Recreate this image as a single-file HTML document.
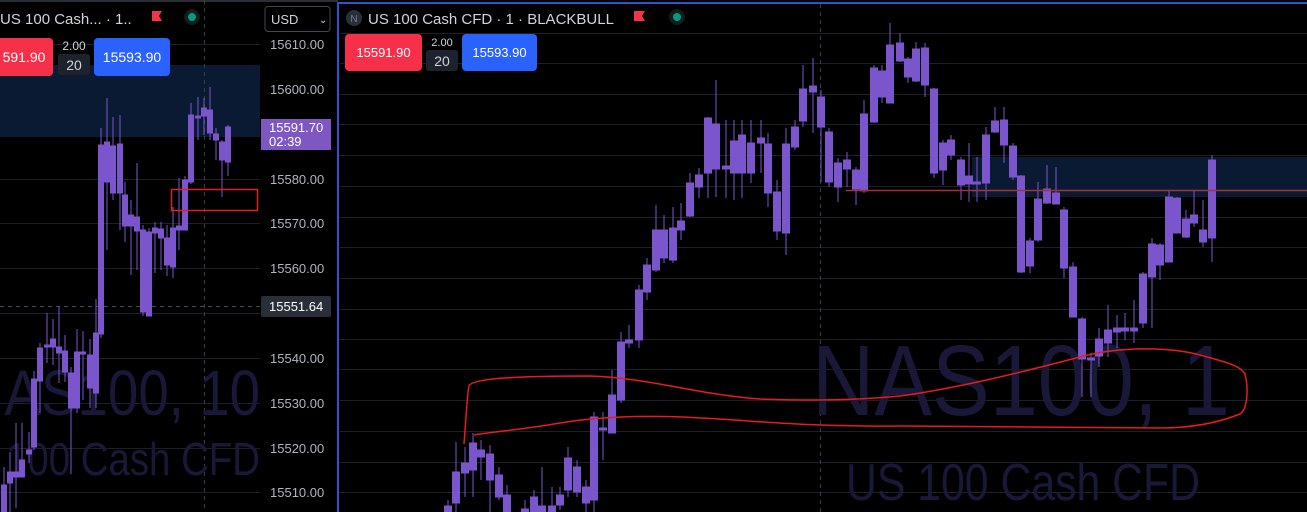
<!DOCTYPE html>
<html><head><meta charset="utf-8"><style>
html,body{margin:0;padding:0;background:#000;width:1307px;height:512px;overflow:hidden}
svg{display:block;font-family:"Liberation Sans",sans-serif}
</style></head><body>
<svg width="1307" height="512" viewBox="0 0 1307 512" xmlns="http://www.w3.org/2000/svg">
<rect width="1307" height="512" fill="#000"/>
<rect x="0" y="0" width="338" height="2" fill="#2a2e39"/>
<g stroke="#1c1f26" stroke-width="1">
<line x1="0" y1="44.5" x2="260" y2="44.5"/><line x1="0" y1="89.5" x2="260" y2="89.5"/><line x1="0" y1="134.5" x2="260" y2="134.5"/>
<line x1="0" y1="179.5" x2="260" y2="179.5"/><line x1="0" y1="223.5" x2="260" y2="223.5"/><line x1="0" y1="268.5" x2="260" y2="268.5"/>
<line x1="0" y1="313.5" x2="260" y2="313.5"/><line x1="0" y1="358.5" x2="260" y2="358.5"/><line x1="0" y1="403.5" x2="260" y2="403.5"/>
<line x1="0" y1="448.5" x2="260" y2="448.5"/><line x1="0" y1="492.5" x2="260" y2="492.5"/>
</g>
<rect x="0" y="65" width="260" height="72" fill="#0b1a33"/>
<line x1="204.5" y1="0" x2="204.5" y2="512" stroke="#3a3d46" stroke-dasharray="4,4"/>
<line x1="0" y1="306.5" x2="260" y2="306.5" stroke="#4a4d56" stroke-dasharray="4,4"/>
<text x="-35" y="415" font-size="64" fill="#1a1838" textLength="295" lengthAdjust="spacingAndGlyphs">NAS100, 10</text>
<text x="-58" y="475" font-size="46" fill="#1a1838" textLength="318" lengthAdjust="spacingAndGlyphs">US 100 Cash CFD</text>
<g fill="#7a55cc" stroke="#7a55cc" stroke-width="1">
<line x1="4" y1="467" x2="4" y2="512"/><rect x="1.5" y="485" width="5" height="27"/>
<line x1="10" y1="452" x2="10" y2="512"/><rect x="7.5" y="472" width="5" height="11"/>
<line x1="16" y1="423" x2="16" y2="508"/><rect x="13.5" y="472" width="5" height="5"/>
<line x1="22" y1="423" x2="22" y2="477"/><rect x="19.5" y="460" width="5" height="17"/>
<line x1="29" y1="432" x2="29" y2="463"/><rect x="26.5" y="450" width="5" height="4"/>
<line x1="34" y1="371" x2="34" y2="450"/><rect x="31.5" y="379" width="5" height="68"/>
<line x1="40" y1="343" x2="40" y2="413"/><rect x="37.5" y="348" width="5" height="33"/>
<line x1="47" y1="313" x2="47" y2="363"/><rect x="44.5" y="345" width="5" height="2"/>
<line x1="53" y1="319" x2="53" y2="365"/><rect x="50.5" y="339" width="5" height="8"/>
<line x1="59" y1="306" x2="59" y2="383"/><rect x="56.5" y="347" width="5" height="6"/>
<line x1="65" y1="335" x2="65" y2="382"/><rect x="62.5" y="351" width="5" height="21"/>
<line x1="71" y1="367" x2="71" y2="474"/><rect x="68.5" y="373" width="5" height="35"/>
<line x1="77" y1="329" x2="77" y2="413"/><rect x="74.5" y="352" width="5" height="56"/>
<line x1="83" y1="331" x2="83" y2="400"/><rect x="80.5" y="352" width="5" height="2"/>
<line x1="90" y1="339" x2="90" y2="408"/><rect x="87.5" y="355" width="5" height="33"/>
<line x1="96" y1="299" x2="96" y2="408"/><rect x="93.5" y="333" width="5" height="60"/>
<line x1="101" y1="128" x2="101" y2="338"/><rect x="98.5" y="145" width="5" height="189"/>
<line x1="107" y1="98" x2="107" y2="250"/><rect x="104.5" y="142" width="5" height="40"/>
<line x1="113" y1="117" x2="113" y2="200"/><rect x="110.5" y="146" width="5" height="47"/>
<line x1="120" y1="115" x2="120" y2="230"/><rect x="117.5" y="144" width="5" height="49"/>
<line x1="125" y1="182" x2="125" y2="242"/><rect x="122.5" y="195" width="5" height="31"/>
<line x1="131" y1="200" x2="131" y2="275"/><rect x="128.5" y="215" width="5" height="11"/>
<line x1="137" y1="163" x2="137" y2="270"/><rect x="134.5" y="217" width="5" height="14"/>
<line x1="143" y1="225" x2="143" y2="316"/><rect x="140.5" y="230" width="5" height="82"/>
<line x1="149" y1="228" x2="149" y2="316"/><rect x="146.5" y="232" width="5" height="84"/>
<line x1="155" y1="222" x2="155" y2="273"/><rect x="152.5" y="228" width="5" height="5"/>
<line x1="161" y1="222" x2="161" y2="270"/><rect x="158.5" y="229" width="5" height="9"/>
<line x1="167" y1="225" x2="167" y2="276"/><rect x="164.5" y="238" width="5" height="27"/>
<line x1="173" y1="207" x2="173" y2="278"/><rect x="170.5" y="228" width="5" height="39"/>
<line x1="179" y1="178" x2="179" y2="250"/><rect x="176.5" y="226" width="5" height="4"/>
<line x1="185" y1="176" x2="185" y2="230"/><rect x="182.5" y="180" width="5" height="50"/>
<line x1="191" y1="103" x2="191" y2="184"/><rect x="188.5" y="115" width="5" height="67"/>
<line x1="198" y1="97" x2="198" y2="140"/><rect x="195.5" y="116" width="5" height="2"/>
<line x1="204" y1="98" x2="204" y2="135"/><rect x="201.5" y="108" width="5" height="8"/>
<line x1="210" y1="87" x2="210" y2="140"/><rect x="207.5" y="110" width="5" height="23"/>
<line x1="216" y1="128" x2="216" y2="160"/><rect x="213.5" y="134" width="5" height="6"/>
<line x1="222" y1="140" x2="222" y2="197"/><rect x="219.5" y="142" width="5" height="18"/>
<line x1="228" y1="125" x2="228" y2="176"/><rect x="225.5" y="127" width="5" height="35"/>
</g>
<rect x="171.5" y="189.5" width="86" height="21" fill="none" stroke="#e0221f" stroke-width="1.5"/>
<text x="0" y="24" font-size="15" fill="#d1d4dc">US 100 Cash... · 1..</text>
<path d="M152 11h10l-3 5 3 5h-10z" fill="#f23645"/>
<circle cx="192" cy="17" r="8" fill="#0f1d1b"/><circle cx="192" cy="17" r="4" fill="#089981"/>
<rect x="-5" y="38" width="58" height="38" rx="4" fill="#f7304a"/>
<text x="24" y="62" font-size="14" fill="#fff" text-anchor="middle">591.90</text>
<text x="74" y="50" font-size="12" fill="#d1d4dc" text-anchor="middle">2.00</text>
<rect x="58" y="54" width="32" height="21" rx="3" fill="#1e222d"/>
<text x="74" y="70" font-size="14" fill="#d1d4dc" text-anchor="middle">20</text>
<rect x="94" y="38" width="76" height="38" rx="4" fill="#2962ff"/>
<text x="132" y="62" font-size="14" fill="#fff" text-anchor="middle">15593.90</text>
<rect x="265" y="6.5" width="65" height="25" rx="3" fill="#000" stroke="#434651"/>
<text x="271" y="24" font-size="13" fill="#d1d4dc">USD</text>
<text x="319" y="23" font-size="10" fill="#d1d4dc">⌄</text>
<g font-size="13" fill="#b2b5be">
<text x="270" y="49">15610.00</text><text x="270" y="94">15600.00</text>
<text x="270" y="184">15580.00</text><text x="270" y="228">15570.00</text><text x="270" y="273">15560.00</text>
<text x="270" y="363">15540.00</text><text x="270" y="408">15530.00</text><text x="270" y="453">15520.00</text>
<text x="270" y="497">15510.00</text>
</g>
<rect x="261" y="119" width="70" height="31" fill="#7e57c2"/>
<text x="269" y="132" font-size="13" fill="#fff">15591.70</text>
<text x="269" y="146" font-size="13" fill="#fff">02:39</text>
<rect x="261" y="296" width="70" height="21" rx="2" fill="#2a2e39"/>
<text x="269" y="311" font-size="13" fill="#fff">15551.64</text>
<g stroke="#1c1f26" stroke-width="1">
<line x1="340" y1="33.5" x2="1307" y2="33.5"/><line x1="340" y1="63.5" x2="1307" y2="63.5"/><line x1="340" y1="94.5" x2="1307" y2="94.5"/>
<line x1="340" y1="124.5" x2="1307" y2="124.5"/><line x1="340" y1="155.5" x2="1307" y2="155.5"/><line x1="340" y1="186.5" x2="1307" y2="186.5"/>
<line x1="340" y1="217.5" x2="1307" y2="217.5"/><line x1="340" y1="247.5" x2="1307" y2="247.5"/><line x1="340" y1="278.5" x2="1307" y2="278.5"/>
<line x1="340" y1="309.5" x2="1307" y2="309.5"/><line x1="340" y1="339.5" x2="1307" y2="339.5"/><line x1="340" y1="369.5" x2="1307" y2="369.5"/>
<line x1="340" y1="400.5" x2="1307" y2="400.5"/><line x1="340" y1="431.5" x2="1307" y2="431.5"/><line x1="340" y1="462.5" x2="1307" y2="462.5"/>
<line x1="340" y1="492.5" x2="1307" y2="492.5"/>
</g>
<rect x="972" y="157" width="335" height="40" fill="#0b1a33"/>
<line x1="820.5" y1="4" x2="820.5" y2="512" stroke="#3a3d46" stroke-dasharray="4,4"/>
<text x="812" y="415" font-size="100" fill="#1a1838" textLength="418" lengthAdjust="spacingAndGlyphs">NAS100, 1</text>
<text x="846" y="500" font-size="52" fill="#1a1838" textLength="354" lengthAdjust="spacingAndGlyphs">US 100 Cash CFD</text>
<g fill="#7a55cc" stroke="#7a55cc" stroke-width="1">
<line x1="448" y1="500" x2="448" y2="512"/><rect x="444.5" y="506" width="7" height="6"/>
<line x1="456" y1="442" x2="456" y2="512"/><rect x="452.5" y="472" width="7" height="31"/>
<line x1="465" y1="447" x2="465" y2="497"/><rect x="461.5" y="463" width="7" height="10"/>
<line x1="473" y1="433" x2="473" y2="497"/><rect x="469.5" y="443" width="7" height="27"/>
<line x1="481" y1="440" x2="481" y2="480"/><rect x="477.5" y="450" width="7" height="7"/>
<line x1="490" y1="445" x2="490" y2="512"/><rect x="486.5" y="454" width="7" height="26"/>
<line x1="499" y1="467" x2="499" y2="500"/><rect x="495.5" y="475" width="7" height="22"/>
<line x1="507" y1="485" x2="507" y2="512"/><rect x="503.5" y="495" width="7" height="17"/>
<line x1="525" y1="500" x2="525" y2="512"/><rect x="521.5" y="509" width="7" height="3"/>
<line x1="534" y1="490" x2="534" y2="512"/><rect x="530.5" y="497" width="7" height="15"/>
<line x1="542" y1="467" x2="542" y2="512"/><rect x="538.5" y="506" width="7" height="6"/>
<line x1="552" y1="487" x2="552" y2="512"/><rect x="548.5" y="506" width="7" height="6"/>
<line x1="560" y1="487" x2="560" y2="510"/><rect x="556.5" y="495" width="7" height="10"/>
<line x1="568" y1="447" x2="568" y2="497"/><rect x="564.5" y="458" width="7" height="32"/>
<line x1="577" y1="460" x2="577" y2="497"/><rect x="573.5" y="467" width="7" height="25"/>
<line x1="586" y1="480" x2="586" y2="512"/><rect x="582.5" y="487" width="7" height="16"/>
<line x1="594" y1="412" x2="594" y2="512"/><rect x="590.5" y="417" width="7" height="83"/>
<line x1="603" y1="412" x2="603" y2="460"/><rect x="599.5" y="428" width="7" height="2"/>
<line x1="612" y1="370" x2="612" y2="433"/><rect x="608.5" y="395" width="7" height="38"/>
<line x1="621" y1="332" x2="621" y2="403"/><rect x="617.5" y="342" width="7" height="58"/>
<line x1="629" y1="325" x2="629" y2="348"/><rect x="625.5" y="340" width="7" height="3"/>
<line x1="639" y1="285" x2="639" y2="348"/><rect x="635.5" y="290" width="7" height="50"/>
<line x1="647" y1="258" x2="647" y2="300"/><rect x="643.5" y="265" width="7" height="27"/>
<line x1="656" y1="205" x2="656" y2="272"/><rect x="652.5" y="230" width="7" height="40"/>
<line x1="664" y1="215" x2="664" y2="263"/><rect x="660.5" y="230" width="7" height="28"/>
<line x1="673" y1="207" x2="673" y2="263"/><rect x="669.5" y="228" width="7" height="32"/>
<line x1="681" y1="203" x2="681" y2="240"/><rect x="677.5" y="221" width="7" height="9"/>
<line x1="690" y1="173" x2="690" y2="217"/><rect x="686.5" y="183" width="7" height="33"/>
<line x1="699" y1="168" x2="699" y2="198"/><rect x="695.5" y="175" width="7" height="12"/>
<line x1="708" y1="117" x2="708" y2="198"/><rect x="704.5" y="118" width="7" height="55"/>
<line x1="716" y1="80" x2="716" y2="197"/><rect x="712.5" y="124" width="7" height="45"/>
<line x1="726" y1="120" x2="726" y2="198"/><rect x="722.5" y="166" width="7" height="3"/>
<line x1="734" y1="120" x2="734" y2="200"/><rect x="730.5" y="141" width="7" height="32"/>
<line x1="742" y1="120" x2="742" y2="198"/><rect x="738.5" y="135" width="7" height="38"/>
<line x1="751" y1="120" x2="751" y2="183"/><rect x="747.5" y="143" width="7" height="30"/>
<line x1="761" y1="120" x2="761" y2="173"/><rect x="757.5" y="138" width="7" height="5"/>
<line x1="768" y1="133" x2="768" y2="207"/><rect x="764.5" y="144" width="7" height="49"/>
<line x1="777" y1="180" x2="777" y2="240"/><rect x="773.5" y="192" width="7" height="39"/>
<line x1="786" y1="128" x2="786" y2="255"/><rect x="782.5" y="144" width="7" height="89"/>
<line x1="795" y1="120" x2="795" y2="150"/><rect x="791.5" y="127" width="7" height="20"/>
<line x1="803" y1="65" x2="803" y2="127"/><rect x="799.5" y="89" width="7" height="32"/>
<line x1="813" y1="58" x2="813" y2="133"/><rect x="809.5" y="86" width="7" height="6"/>
<line x1="821" y1="90" x2="821" y2="182"/><rect x="817.5" y="97" width="7" height="30"/>
<line x1="829" y1="128" x2="829" y2="187"/><rect x="825.5" y="132" width="7" height="50"/>
<line x1="838" y1="158" x2="838" y2="202"/><rect x="834.5" y="163" width="7" height="24"/>
<line x1="847" y1="152" x2="847" y2="187"/><rect x="843.5" y="160" width="7" height="9"/>
<line x1="856" y1="167" x2="856" y2="205"/><rect x="852.5" y="170" width="7" height="19"/>
<line x1="864" y1="100" x2="864" y2="193"/><rect x="860.5" y="114" width="7" height="77"/>
<line x1="874" y1="65" x2="874" y2="123"/><rect x="870.5" y="68" width="7" height="54"/>
<line x1="882" y1="65" x2="882" y2="103"/><rect x="878.5" y="71" width="7" height="26"/>
<line x1="890" y1="23" x2="890" y2="103"/><rect x="886.5" y="45" width="7" height="58"/>
<line x1="900" y1="33" x2="900" y2="62"/><rect x="896.5" y="43" width="7" height="18"/>
<line x1="908" y1="57" x2="908" y2="83"/><rect x="904.5" y="59" width="7" height="18"/>
<line x1="916" y1="42" x2="916" y2="82"/><rect x="912.5" y="49" width="7" height="32"/>
<line x1="925" y1="43" x2="925" y2="97"/><rect x="921.5" y="48" width="7" height="37"/>
<line x1="934" y1="88" x2="934" y2="178"/><rect x="930.5" y="89" width="7" height="84"/>
<line x1="943" y1="140" x2="943" y2="185"/><rect x="939.5" y="143" width="7" height="27"/>
<line x1="951" y1="135" x2="951" y2="160"/><rect x="947.5" y="140" width="7" height="15"/>
<line x1="961" y1="157" x2="961" y2="200"/><rect x="957.5" y="160" width="7" height="25"/>
<line x1="969" y1="143" x2="969" y2="202"/><rect x="965.5" y="176" width="7" height="8"/>
<line x1="977" y1="157" x2="977" y2="202"/><rect x="973.5" y="182" width="7" height="2"/>
<line x1="986" y1="127" x2="986" y2="200"/><rect x="982.5" y="135" width="7" height="48"/>
<line x1="995" y1="107" x2="995" y2="133"/><rect x="991.5" y="121" width="7" height="11"/>
<line x1="1004" y1="107" x2="1004" y2="163"/><rect x="1000.5" y="120" width="7" height="25"/>
<line x1="1013" y1="143" x2="1013" y2="180"/><rect x="1009.5" y="146" width="7" height="31"/>
<line x1="1021" y1="175" x2="1021" y2="273"/><rect x="1017.5" y="176" width="7" height="96"/>
<line x1="1030" y1="238" x2="1030" y2="273"/><rect x="1026.5" y="241" width="7" height="25"/>
<line x1="1038" y1="182" x2="1038" y2="242"/><rect x="1034.5" y="199" width="7" height="41"/>
<line x1="1047" y1="165" x2="1047" y2="204"/><rect x="1043.5" y="189" width="7" height="14"/>
<line x1="1056" y1="167" x2="1056" y2="204"/><rect x="1052.5" y="193" width="7" height="11"/>
<line x1="1064" y1="207" x2="1064" y2="278"/><rect x="1060.5" y="210" width="7" height="58"/>
<line x1="1073" y1="262" x2="1073" y2="317"/><rect x="1069.5" y="267" width="7" height="50"/>
<line x1="1082" y1="317" x2="1082" y2="397"/><rect x="1078.5" y="319" width="7" height="40"/>
<line x1="1091" y1="353" x2="1091" y2="397"/><rect x="1087.5" y="358" width="7" height="2"/>
<line x1="1099" y1="328" x2="1099" y2="367"/><rect x="1095.5" y="339" width="7" height="17"/>
<line x1="1108" y1="305" x2="1108" y2="357"/><rect x="1104.5" y="330" width="7" height="13"/>
<line x1="1117" y1="315" x2="1117" y2="348"/><rect x="1113.5" y="328" width="7" height="4"/>
<line x1="1125" y1="313" x2="1125" y2="340"/><rect x="1121.5" y="328" width="7" height="3"/>
<line x1="1134" y1="300" x2="1134" y2="343"/><rect x="1130.5" y="328" width="7" height="3"/>
<line x1="1143" y1="272" x2="1143" y2="328"/><rect x="1139.5" y="274" width="7" height="49"/>
<line x1="1152" y1="238" x2="1152" y2="328"/><rect x="1148.5" y="244" width="7" height="33"/>
<line x1="1160" y1="243" x2="1160" y2="280"/><rect x="1156.5" y="245" width="7" height="20"/>
<line x1="1169" y1="190" x2="1169" y2="262"/><rect x="1165.5" y="197" width="7" height="65"/>
<line x1="1177" y1="197" x2="1177" y2="233"/><rect x="1173.5" y="198" width="7" height="35"/>
<line x1="1186" y1="210" x2="1186" y2="238"/><rect x="1182.5" y="219" width="7" height="18"/>
<line x1="1194" y1="190" x2="1194" y2="227"/><rect x="1190.5" y="215" width="7" height="8"/>
<line x1="1203" y1="200" x2="1203" y2="247"/><rect x="1199.5" y="230" width="7" height="12"/>
<line x1="1212" y1="155" x2="1212" y2="262"/><rect x="1208.5" y="160" width="7" height="78"/>
</g>
<line x1="846" y1="190.5" x2="1307" y2="190.5" stroke="#a8303a" stroke-width="1.5"/>
<path d="M464 444 C466 420 467 395 469 386 C472 378 520 376 590 376 C650 378 700 395 760 399 C820 401 860 400 900 396 C960 388 1030 370 1080 357 C1120 346 1170 347 1200 355 C1225 362 1240 365 1245 374 C1249 390 1247 410 1240 414 C1225 420 1200 428 1160 428 C1080 427 1000 427 900 426 C800 427 750 420 700 418 C640 414 590 418 560 423 C520 430 490 432 474 435" fill="none" stroke="#e81c1c" stroke-width="1.5"/>
<rect x="338" y="2" width="969" height="2" fill="#2457d6"/>
<rect x="337" y="2" width="2" height="510" fill="#2457d6"/>
<circle cx="354" cy="18" r="8" fill="#2a2e39"/>
<text x="354" y="22" font-size="10" fill="#787b86" text-anchor="middle">N</text>
<text x="368" y="24" font-size="15" fill="#d1d4dc">US 100 Cash CFD · 1 · BLACKBULL</text>
<path d="M634 11h11l-3 5 3 5h-11z" fill="#f23645"/>
<circle cx="677" cy="17" r="8" fill="#0f1d1b"/><circle cx="677" cy="17" r="4" fill="#089981"/>
<rect x="345" y="34" width="77" height="37" rx="4" fill="#f7304a"/>
<text x="383.5" y="57" font-size="13" fill="#fff" text-anchor="middle">15591.90</text>
<text x="442" y="46" font-size="11" fill="#d1d4dc" text-anchor="middle">2.00</text>
<rect x="426" y="50" width="32" height="21" rx="3" fill="#1e222d"/>
<text x="442" y="66" font-size="14" fill="#d1d4dc" text-anchor="middle">20</text>
<rect x="462" y="34" width="75" height="37" rx="4" fill="#2962ff"/>
<text x="499.5" y="57" font-size="13" fill="#fff" text-anchor="middle">15593.90</text>
</svg>
</body></html>
